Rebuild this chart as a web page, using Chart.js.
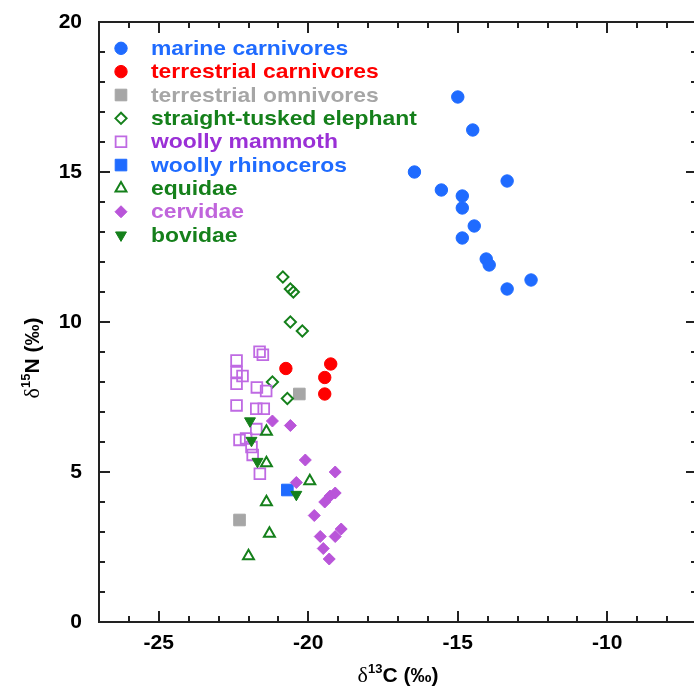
<!DOCTYPE html>
<html>
<head>
<meta charset="utf-8">
<script src="https://cdn.jsdelivr.net/npm/chart.js@4.4.1/dist/chart.umd.min.js"></script>
<style>
  html, body { margin: 0; padding: 0; background: #fff; overflow: hidden; }
  #wrap { width: 710px; height: 687px; }
</style>
</head>
<body>
<div id="wrap"><canvas id="isoChart" width="710" height="687"></canvas></div>
<script>
// axis ticks
const xTickValues = [-25, -20, -15, -10];
const yTickValues = [0, 5, 10, 15, 20];

// series: d13C (x) and d15N (y)
const marineX = [-15.0, -14.5, -16.45, -13.35, -15.55, -14.85, -14.85, -14.45, -14.85, -14.05, -13.95, -12.55, -13.35];
const marineY = [17.5, 16.4, 15.0, 14.7, 14.4, 14.2, 13.8, 13.2, 12.8, 12.1, 11.9, 11.4, 11.1];

const terrCarnX = [-20.75, -19.25, -19.45, -19.45];
const terrCarnY = [8.45, 8.6, 8.15, 7.6];

const terrOmniX = [-20.3, -22.3];
const terrOmniY = [7.6, 3.4];

const elephantX = [-20.85, -20.6, -20.5, -20.6, -20.2, -21.2, -20.7];
const elephantY = [11.5, 11.1, 11.0, 10.0, 9.7, 8.0, 7.45];

const mammothX = [-22.4, -22.4, -22.2, -22.4, -21.63, -21.52, -21.72, -21.41, -22.4, -21.74, -21.49, -21.74, -22.3, -22.08, -21.9, -21.86, -21.62];
const mammothY = [8.72, 8.33, 8.2, 7.94, 9.01, 8.91, 7.82, 7.7, 7.22, 7.11, 7.11, 6.43, 6.07, 6.12, 5.83, 5.57, 4.94];

const rhinoX = [-20.7];
const rhinoY = [4.4];

const equidaeX = [-21.4, -21.4, -21.4, -21.3, -22.0, -19.95];
const equidaeY = [6.35, 5.3, 4.0, 2.95, 2.2, 4.7];

const cervidaeX = [-21.2, -20.6, -20.1, -19.1, -20.4, -19.45, -19.27, -19.1, -19.8, -18.9, -19.1, -19.6, -19.5, -19.3];
const cervidaeY = [6.7, 6.55, 5.4, 5.0, 4.65, 4.0, 4.2, 4.3, 3.55, 3.1, 2.85, 2.85, 2.45, 2.1];

const bovidaeX = [-21.95, -21.9, -21.7, -20.4];
const bovidaeY = [6.7, 6.05, 5.35, 4.25];

const BLUE = '#1f6bff';
const RED = '#ff0000';
const GREY = '#a6a6a6';
const GREEN = '#15801b';
const LILAC = '#bf6ae3';
const VIOLET = '#9a30d6';
const ORCHID = '#b955d9';
const ORCHID_TEXT = '#c065dc';
const CLEAR = 'rgba(0,0,0,0)';

function pts(xs, ys) {
  return xs.map((v, i) => ({ x: v, y: ys[i] }));
}

function series(label, xs, ys, style, fill, stroke, textColor, radius, width, rotation) {
  return {
    label: label,
    data: pts(xs, ys),
    pointStyle: style,
    pointRadius: radius,
    pointHoverRadius: radius,
    pointRotation: rotation || 0,
    pointBackgroundColor: fill,
    pointBorderColor: stroke,
    pointBorderWidth: width,
    labelColor: textColor
  };
}

const datasets = [
  series('marine carnivores', marineX, marineY, 'circle', BLUE, BLUE, BLUE, 6.2, 1),
  series('terrestrial carnivores', terrCarnX, terrCarnY, 'circle', RED, RED, RED, 6.2, 1),
  series('terrestrial omnivores', terrOmniX, terrOmniY, 'rect', GREY, GREY, GREY, 8.2, 1),
  series('straight-tusked elephant', elephantX, elephantY, 'rectRot', CLEAR, GREEN, GREEN, 5.6, 2),
  series('woolly mammoth', mammothX, mammothY, 'rect', CLEAR, LILAC, VIOLET, 7.6, 1.8),
  series('woolly rhinoceros', rhinoX, rhinoY, 'rect', BLUE, BLUE, BLUE, 8.2, 1),
  series('equidae', equidaeX, equidaeY, 'triangle', CLEAR, GREEN, GREEN, 6.3, 2),
  series('cervidae', cervidaeX, cervidaeY, 'rectRot', ORCHID, ORCHID, ORCHID_TEXT, 6, 1),
  series('bovidae', bovidaeX, bovidaeY, 'triangle', GREEN, GREEN, GREEN, 6.3, 1, 180)
];
// later series sit on top of earlier ones
datasets.forEach((ds, i) => { ds.order = -i; });

// frame with inward major/minor ticks on all four sides
const framePlugin = {
  id: 'frame',
  beforeDatasetsDraw(chart) {
    const { ctx, chartArea: a, scales: { x, y } } = chart;
    ctx.save();
    ctx.strokeStyle = '#222';
    ctx.lineWidth = 2;
    ctx.strokeRect(a.left, a.top, a.right - a.left, a.bottom - a.top);
    ctx.beginPath();
    for (let v = Math.ceil(x.min); v <= x.max; v++) {
      const px = Math.round(x.getPixelForValue(v));
      const len = v % 5 === 0 ? 11 : 6;
      ctx.moveTo(px, a.bottom); ctx.lineTo(px, a.bottom - len);
      ctx.moveTo(px, a.top); ctx.lineTo(px, a.top + len);
    }
    for (let v = Math.ceil(y.min); v <= y.max; v++) {
      const py = Math.round(y.getPixelForValue(v));
      const len = v % 5 === 0 ? 11 : 6;
      ctx.moveTo(a.left, py); ctx.lineTo(a.left + len, py);
      ctx.moveTo(a.right, py); ctx.lineTo(a.right - len, py);
    }
    ctx.stroke();
    ctx.restore();
  }
};

// text with a raised superscript, e.g. δ13C (‰)
function richParts(iso, element) {
  return [
    { text: 'δ', font: '22px "Liberation Serif", serif', dy: 0 },
    { text: iso, font: 'bold 13px "Liberation Sans", Arial, sans-serif', dy: -9 },
    { text: element + ' (‰)', font: 'bold 21px "Liberation Sans", Arial, sans-serif', dy: 0 }
  ];
}

function drawRich(ctx, parts, cx, baseline) {
  let total = 0;
  parts.forEach(p => { ctx.font = p.font; total += ctx.measureText(p.text).width; });
  let x = cx - total / 2;
  parts.forEach(p => {
    ctx.font = p.font;
    ctx.fillText(p.text, x, baseline + p.dy);
    x += ctx.measureText(p.text).width;
  });
}

const titlePlugin = {
  id: 'axisTitles',
  afterDraw(chart) {
    const { ctx, chartArea: a } = chart;
    ctx.save();
    ctx.fillStyle = '#000';
    ctx.textBaseline = 'alphabetic';
    drawRich(ctx, richParts('13', 'C'), (a.left + a.right) / 2, 682);
    ctx.translate(39, 358);
    ctx.rotate(-Math.PI / 2);
    drawRich(ctx, richParts('15', 'N'), 0, 0);
    ctx.restore();
  }
};

// legend inside the upper-left corner of the plot
const legendPlugin = {
  id: 'insetLegend',
  afterDatasetsDraw(chart) {
    const ctx = chart.ctx;
    chart.data.datasets.forEach((ds, i) => {
      const cy = 48.3 + i * 23.35;
      ctx.save();
      ctx.fillStyle = ds.pointBackgroundColor;
      ctx.strokeStyle = ds.pointBorderColor;
      ctx.lineWidth = ds.pointBorderWidth;
      Chart.helpers.drawPoint(ctx, {
        pointStyle: ds.pointStyle,
        rotation: ds.pointRotation,
        radius: ds.pointRadius,
        borderWidth: ds.pointBorderWidth
      }, 121, cy);
      ctx.translate(151, cy + 6.5);
      ctx.scale(1.09, 1);
      ctx.font = 'bold 21px "Liberation Sans", Arial, sans-serif';
      ctx.fillStyle = ds.labelColor;
      ctx.textBaseline = 'alphabetic';
      ctx.fillText(ds.label, 0, 0);
      ctx.restore();
    });
  }
};

const tickFont = { family: '"Liberation Sans", Arial, sans-serif', size: 21, weight: 'bold' };

new Chart(document.getElementById('isoChart').getContext('2d'), {
  type: 'scatter',
  data: { datasets: datasets },
  options: {
    responsive: false,
    animation: false,
    layout: { padding: { top: 22, right: 13, left: 0, bottom: 0 } },
    plugins: { legend: { display: false }, tooltip: { enabled: false } },
    scales: {
      x: {
        type: 'linear',
        min: -27,
        max: -7,
        afterBuildTicks: (scale) => { scale.ticks = xTickValues.map(v => ({ value: v })); },
        afterFit: (scale) => { scale.height = 65; scale.paddingLeft = 0; scale.paddingRight = 0; },
        grid: { display: true, drawOnChartArea: false, drawTicks: false },
        border: { display: false },
        ticks: { color: '#000', font: tickFont, padding: 9, maxRotation: 0 }
      },
      y: {
        type: 'linear',
        min: 0,
        max: 20,
        afterBuildTicks: (scale) => { scale.ticks = yTickValues.map(v => ({ value: v })); },
        afterFit: (scale) => { scale.width = 99; scale.paddingTop = 0; scale.paddingBottom = 0; },
        grid: { display: true, drawOnChartArea: false, drawTicks: false },
        border: { display: false },
        ticks: { color: '#000', font: tickFont, padding: 17 }
      }
    }
  },
  plugins: [framePlugin, legendPlugin, titlePlugin]
});
</script>
</body>
</html>
